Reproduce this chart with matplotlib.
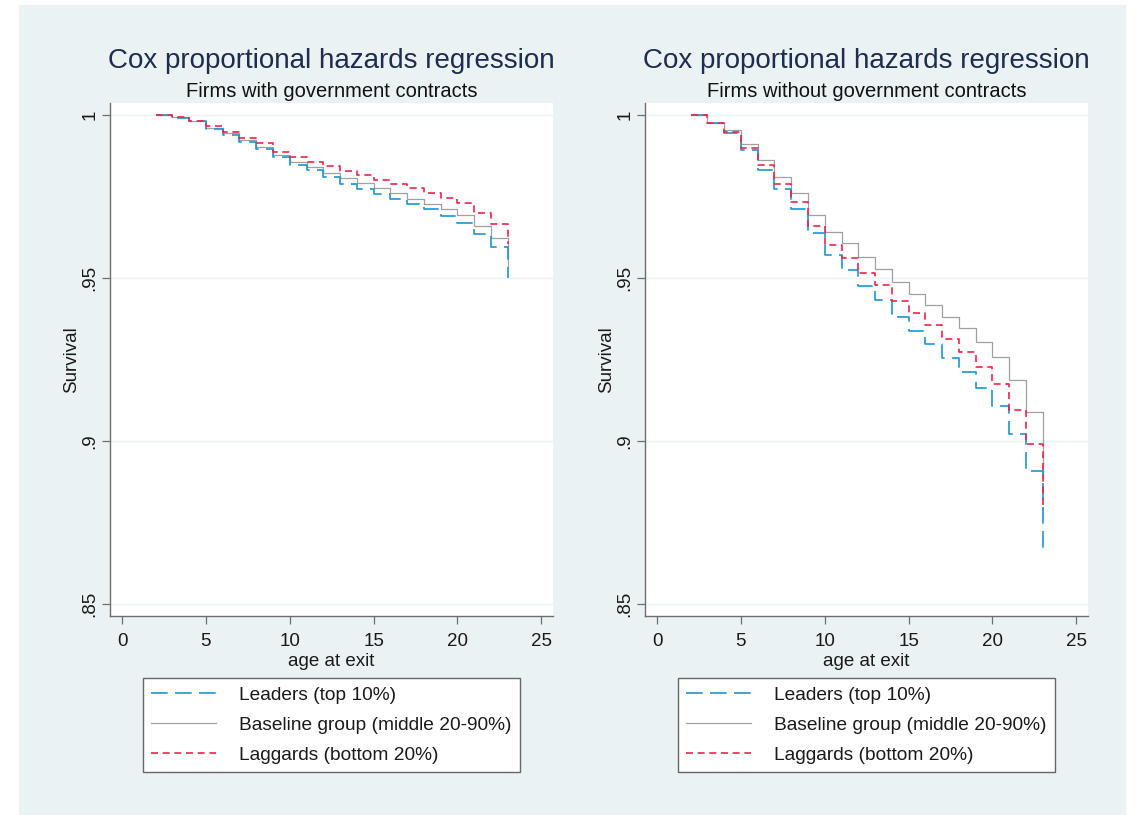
import matplotlib.pyplot as plt
from matplotlib.patches import Rectangle

plt.rcParams['font.family'] = ['Liberation Sans', 'DejaVu Sans']

# age at exit (step positions), last value is the final drop at age 23
AGE = list(range(2, 24))

# Firms with government contracts
GOV_LEADERS = [1.0, .9992, .9981, .9956, .9939, .9918, .9895, .9872, .9847, .9830, .9809,
               .9790, .9774, .9757, .9741, .9726, .9711, .9690, .9668, .9635, .9596, .9499]
GOV_BASELINE = [1.0, .9993, .9983, .9959, .9944, .9923, .9903, .9877, .9857, .9842, .9823,
                .9808, .9792, .9775, .9760, .9742, .9727, .9712, .9693, .9660, .9622, .9535]
GOV_LAGGARDS = [1.0, .9993, .9982, .9966, .9949, .9931, .9913, .9888, .9870, .9857, .9844,
                .9829, .9816, .9801, .9790, .9775, .9762, .9746, .9729, .9700, .9666, .9605]

# Firms without government contracts
NOGOV_LEADERS = [1.0, .9976, .9944, .9893, .9831, .9772, .9711, .9637, .9571, .9525, .9475,
                 .9432, .9381, .9338, .9299, .9254, .9213, .9164, .9108, .9022, .8909, .8671]
NOGOV_BASELINE = [1.0, .9976, .9954, .9910, .9862, .9811, .9762, .9693, .9642, .9606, .9565,
                  .9528, .9489, .9451, .9417, .9381, .9346, .9305, .9257, .9187, .9090, .8885]
NOGOV_LAGGARDS = [1.0, .9976, .9949, .9898, .9847, .9790, .9734, .9659, .9601, .9560, .9514,
                  .9479, .9431, .9393, .9355, .9312, .9274, .9228, .9175, .9095, .8991, .8788]

TITLE = "Cox proportional hazards regression"
SUBTITLES = ["Firms with government contracts", "Firms without government contracts"]
LEGEND_LABELS = ["Leaders (top 10%)", "Baseline group (middle 20-90%)", "Laggards (bottom 20%)"]
X_TICKS = [0, 5, 10, 15, 20, 25]
Y_TICKS = [0.85, 0.9, 0.95, 1.0]
Y_TICK_LABELS = [".85", ".9", ".95", "1"]

BG = '#eaf2f3'
BLUE = '#1a97cf'
GRAY = '#a0a0a0'
RED = '#ee2449'
AXIS_GRAY = '#6e6e6e'
TEXT = '#1a1a1a'

W, H = 1138, 815
fig = plt.figure(figsize=(W / 100, H / 100), dpi=100, facecolor='white')
fig.patches.append(Rectangle((19 / W, 0), (1126 - 19) / W, 810 / H,
                             transform=fig.transFigure, facecolor=BG,
                             edgecolor='none', zorder=-10))

panels = [
    (110, SUBTITLES[0], GOV_LEADERS, GOV_BASELINE, GOV_LAGGARDS),
    (645, SUBTITLES[1], NOGOV_LEADERS, NOGOV_BASELINE, NOGOV_LAGGARDS),
]

for left_px, subtitle, leaders, baseline, laggards in panels:
    ax = fig.add_axes([left_px / W, 1 - 616 / H, 443 / W, 513 / H])
    ax.set_facecolor('white')

    for yv in Y_TICKS:
        ax.axhline(yv, color=BG, lw=1.0, zorder=1)

    l_base, = ax.plot(AGE, baseline, drawstyle='steps-post', color=GRAY, lw=0.9, zorder=2)
    l_lead, = ax.plot(AGE, leaders, drawstyle='steps-post', color=BLUE, lw=1.2,
                      dashes=(10, 4.4), zorder=3)
    l_lag, = ax.plot(AGE, laggards, drawstyle='steps-post', color=RED, lw=1.2,
                     dashes=(4.2, 2.8), zorder=4)

    ax.set_xlim(-0.72, 25.7)
    ax.set_ylim(0.8463, 1.0037)

    for s in ['top', 'right']:
        ax.spines[s].set_visible(False)
    for s in ['left', 'bottom']:
        ax.spines[s].set_color(AXIS_GRAY)
        ax.spines[s].set_linewidth(1.0)

    ax.set_xticks(X_TICKS)
    ax.set_yticks(Y_TICKS, Y_TICK_LABELS, rotation=90, va='center')
    ax.tick_params(axis='both', colors=AXIS_GRAY, labelcolor=TEXT,
                   labelsize=13.5, length=5.5, width=0.9, direction='out')
    ax.tick_params(axis='x', pad=7)
    ax.tick_params(axis='y', pad=3)

    ax.set_xlabel("age at exit", fontsize=13.5, color=TEXT, labelpad=2)
    ax.set_ylabel("Survival", fontsize=13.5, color=TEXT, labelpad=1)

    ax.text(0.5, 1.082, TITLE, transform=ax.transAxes, ha='center', va='center',
            fontsize=20, color='#1e2d4f')
    ax.text(0.5, 1.023, subtitle, transform=ax.transAxes, ha='center', va='center',
            fontsize=14.5, color='#111111')

    leg = ax.legend([l_lead, l_base, l_lag], LEGEND_LABELS, loc='upper center',
                    bbox_to_anchor=(0.5, -0.121), fontsize=13.8, frameon=True,
                    fancybox=False, edgecolor='#666666', framealpha=1,
                    handlelength=3.4, handletextpad=1.2, borderpad=0.45,
                    labelspacing=0.65, borderaxespad=0)
    leg.get_frame().set_linewidth(1.0)
    for t in leg.get_texts():
        t.set_color(TEXT)

fig.savefig("out.png", dpi=100, facecolor=fig.get_facecolor())
